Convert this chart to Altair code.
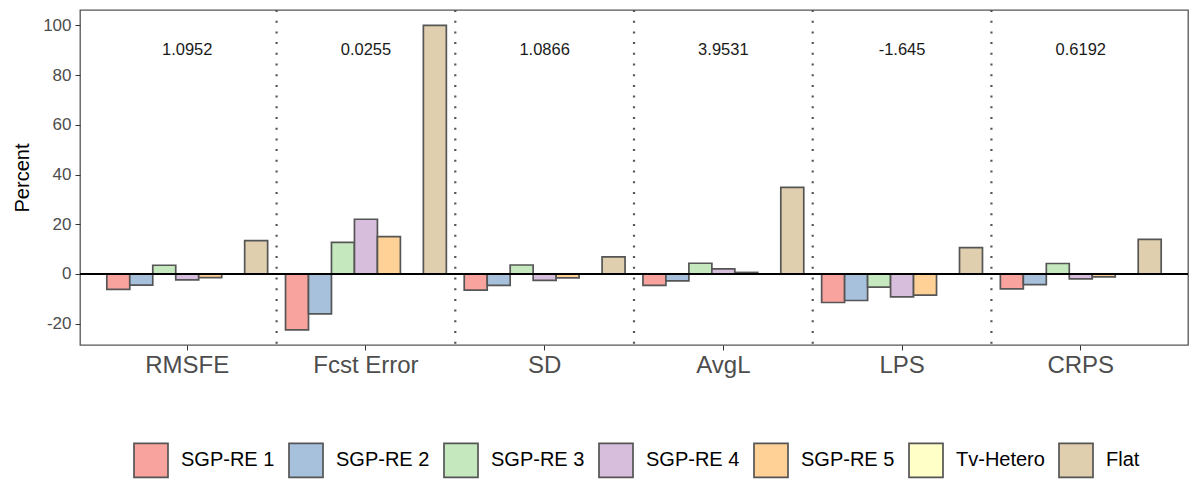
import altair as alt
import pandas as pd

categories = ["RMSFE", "Fcst Error", "SD", "AvgL", "LPS", "CRPS"]
series = ["SGP-RE 1", "SGP-RE 2", "SGP-RE 3", "SGP-RE 4", "SGP-RE 5", "Tv-Hetero", "Flat"]
colors = ["#F8A39E", "#A7C1DC", "#C5E8BF", "#D6BEDC", "#FFD196", "#FFFFC8", "#DFCFAE"]

sgp_re1 = [-6.2, -22.5, -6.5, -4.6, -11.5, -6.0]
sgp_re2 = [-4.5, -16.1, -4.6, -2.8, -10.7, -4.3]
sgp_re3 = [3.5, 12.7, 3.6, 4.3, -5.3, 4.2]
sgp_re4 = [-2.4, 22.0, -2.6, 2.0, -9.2, -2.0]
sgp_re5 = [-1.5, 15.0, -1.6, 0.6, -8.5, -1.2]
tv_hetero = [0.0, 0.0, 0.0, 0.0, 0.0, 0.0]
flat = [13.4, 100.0, 6.9, 34.8, 10.6, 13.9]
annotations = ["1.0952", "0.0255", "1.0866", "3.9531", "-1.645", "0.6192"]
annot_y = [90, 90, 90, 90, 90, 90]

all_vals = [sgp_re1, sgp_re2, sgp_re3, sgp_re4, sgp_re5, tv_hetero, flat]
rows = []
for s, vals in zip(series, all_vals):
    for c, v in zip(categories, vals):
        rows.append({"cat": c, "series": s, "value": v})
df = pd.DataFrame(rows)

ann_df = pd.DataFrame({"cat": categories, "label": annotations, "y": annot_y})
sep_df = pd.DataFrame({"cat": categories[:-1]})

FONT = "Liberation Sans"

xscale = alt.Scale(domain=categories, paddingInner=0, paddingOuter=0.1)
yscale = alt.Scale(domain=[-28.6, 106.2], nice=False, zero=False)

bars = alt.Chart(df).mark_bar(stroke="#555555", strokeWidth=1.7).encode(
    x=alt.X("cat:N", scale=xscale, sort=categories,
            axis=alt.Axis(title=None, labelAngle=0, labelFontSize=24, labelColor="#4d4d4d",
                          labelFont=FONT, domain=False, tickColor="#333333", tickSize=5,
                          labelPadding=3)),
    xOffset=alt.XOffset("series:N", sort=series,
                        scale=alt.Scale(domain=series, paddingInner=0, paddingOuter=0.389)),
    y=alt.Y("value:Q", scale=yscale,
            axis=alt.Axis(title="Percent", values=[-20, 0, 20, 40, 60, 80, 100], grid=False,
                          labelExpr="toString(datum.value)",
                          domain=False, tickColor="#333333", tickSize=5, labelFontSize=17,
                          labelColor="#4d4d4d", labelFont=FONT, labelPadding=4,
                          titleFontSize=20, titleFont=FONT, titleFontWeight="normal",
                          titleColor="black", titlePadding=10)),
    color=alt.Color("series:N", sort=series,
                    scale=alt.Scale(domain=series, range=colors),
                    legend=alt.Legend(title=None, orient="none", direction="horizontal",
                                      legendX=53, legendY=432, symbolType="square",
                                      symbolSize=1156, symbolStrokeColor="#555555",
                                      symbolStrokeWidth=1.7, symbolOpacity=1,
                                      labelFontSize=20, labelFont=FONT, labelColor="black",
                                      labelOffset=12, columnPadding=10)),
)

zero = alt.Chart(df).mark_rule(color="black", strokeWidth=1.5).encode(y=alt.datum(0))

seps = alt.Chart(sep_df).mark_rule(color="#555555", strokeWidth=2.2, strokeDash=[2, 8.7]).encode(
    x=alt.X("cat:N", scale=xscale, sort=categories, bandPosition=1)
)

texts = alt.Chart(ann_df).mark_text(fontSize=16.5, font=FONT, color="#1a1a1a", baseline="middle").encode(
    x=alt.X("cat:N", scale=xscale, sort=categories),
    y=alt.Y("y:Q", scale=yscale),
    text="label:N",
)

chart = alt.layer(bars, zero, seps, texts).properties(
    width=1108, height=335,
    autosize=alt.AutoSizeParams(type="none"),
    padding={"left": 72, "top": 2, "right": 4, "bottom": 140},
).configure_view(stroke="#555555", strokeWidth=1.3)

chart.save("out.html", embed_options={"renderer": "svg", "actions": False})
